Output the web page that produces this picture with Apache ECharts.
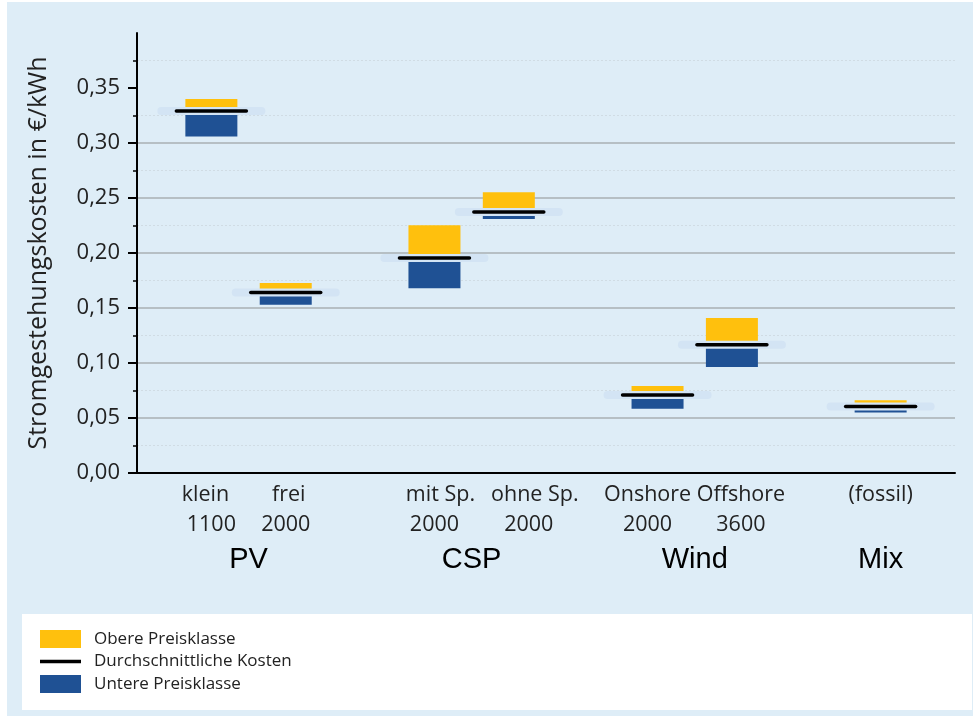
<!DOCTYPE html>
<html><head><meta charset="utf-8">
<script src="https://cdn.jsdelivr.net/npm/echarts@6/dist/echarts.min.js"></script>
<style>html,body{margin:0;padding:0;background:#fff}#c{width:973px;height:716px}</style>
</head><body><div id="c"></div>
<script>
// ---- data ----
const categories = ['klein', 'frei', 'mit Sp.', 'ohne Sp.', 'Onshore', 'Offshore', '(fossil)'];
const subLabels  = ['1100', '2000', '2000', '2000', '2000', '3600', ''];
const groupOf    = ['PV', 'PV', 'CSP', 'CSP', 'Wind', 'Wind', 'Mix'];
const groups     = ['PV', 'CSP', 'Wind', 'Mix'];
const lowCost    = [0.306, 0.153, 0.168, 0.231, 0.0585, 0.0964, 0.055];
const avgCost    = [0.329, 0.164, 0.1955, 0.2373, 0.071, 0.1167, 0.0604];
const highCost   = [0.340, 0.1727, 0.2252, 0.2552, 0.0791, 0.1409, 0.0661];
const yTicks     = [0, 0.05, 0.10, 0.15, 0.20, 0.25, 0.30, 0.35];
const seriesNames = ['Obere Preisklasse', 'Durchschnittliche Kosten', 'Untere Preisklasse'];

// ---- styling ----
const FONT = "'Open Sans', sans-serif";
const C_UP = '#FFC00D', C_LOW = '#1F5194', C_AVG = '#000000', C_HALO = '#D3E4F4';
const labelNudge = [[-6, 0], [3, 0], [6, 0], [26, 20], [-10, -10], [9, 9], [0, 0]];

// build axis slots (gap slots between groups)
const slotCats = ['gap0'];
const slotIndex = [];
const slotToCat = [-1];
categories.forEach((c, i) => {
  if (i > 0 && groupOf[i] !== groupOf[i - 1]) { slotCats.push('gap' + slotCats.length); slotToCat.push(-1); }
  slotIndex.push(slotCats.length);
  slotCats.push(c);
  slotToCat.push(i);
});
slotCats.push('gap' + slotCats.length); slotToCat.push(-1);

const groupCenter = groups.map(g => {
  const idx = categories.map((c, i) => i).filter(i => groupOf[i] === g).map(i => slotIndex[i]);
  return idx.reduce((a, b) => a + b, 0) / idx.length;
});

const rich = {};
labelNudge.forEach((n, i) => {
  const pad = s => s >= 0 ? [0, 0, 0, 2 * s] : [0, -2 * s, 0, 0];
  rich['a' + i] = { fontFamily: FONT, fontSize: 21.5, color: '#222', lineHeight: 30, padding: pad(n[0]) };
  rich['b' + i] = { fontFamily: FONT, fontSize: 21.5, color: '#222', lineHeight: 30, padding: pad(n[1]) };
});

const itemData = categories.map((c, i) => [slotIndex[i], lowCost[i], avgCost[i], highCost[i]]);
const BAR_W = 52, AVG_W = 74, HALO_W = 108;

const chart = echarts.init(document.getElementById('c'), null, { renderer: 'canvas' });
chart.setOption({
  backgroundColor: '#fff',
  animation: false,
  textStyle: { fontFamily: FONT },
  graphic: [
    { type: 'rect', z: -10, shape: { x: 7, y: 2, width: 966, height: 714 }, style: { fill: '#DEEDF7' } },
    { type: 'rect', z: -9, shape: { x: 22, y: 614, width: 950, height: 96 }, style: { fill: '#FFFFFF' } }
  ],
  grid: { left: 137, right: 18, top: 33, bottom: 243, containLabel: false },
  legend: {
    orient: 'vertical', left: 40, top: 630, padding: 0,
    itemWidth: 41, itemHeight: 18, itemGap: 4.5,
    textStyle: { fontFamily: FONT, fontSize: 17, color: '#222', padding: [0, 0, 0, 8] },
    data: [
      { name: seriesNames[0], icon: 'rect' },
      { name: seriesNames[1], icon: 'path://M0,0 M0,7.3 L41,7.3 L41,10.7 L0,10.7 Z M41,18' },
      { name: seriesNames[2], icon: 'rect' }
    ]
  },
  xAxis: [
    {
      type: 'category', data: slotCats, boundaryGap: false,
      axisLine: { show: true, lineStyle: { color: '#000', width: 2 } },
      axisTick: { show: false },
      splitLine: { show: false },
      axisLabel: {
        interval: 0, margin: 7, lineHeight: 30, fontSize: 21.5, color: '#222',
        formatter: (v, idx) => {
          const ci = slotToCat[idx];
          if (ci === undefined || ci < 0) return '';
          let s = '{a' + ci + '|' + categories[ci] + '}';
          if (subLabels[ci]) s += '\n{b' + ci + '|' + subLabels[ci] + '}';
          return s;
        },
        rich: rich
      }
    },
    {
      type: 'value', position: 'bottom', min: 0, max: slotCats.length - 1, interval: 0.5,
      axisLine: { show: false }, axisTick: { show: false }, splitLine: { show: false },
      axisLabel: {
        margin: 72, fontFamily: "'Liberation Sans', Arial, sans-serif", fontSize: 29, color: '#000',
        showMinLabel: true, showMaxLabel: true,
        formatter: v => {
          const k = groupCenter.findIndex(c => Math.abs(c - v) < 1e-6);
          return k >= 0 ? groups[k] : '';
        }
      }
    }
  ],
  yAxis: {
    type: 'value', min: 0, max: 0.40, interval: 0.05,
    name: 'Stromgestehungskosten in €/kWh', nameLocation: 'middle', nameGap: 86,
    nameTextStyle: { fontFamily: FONT, fontSize: 25, color: '#222' },
    axisLine: { show: true, lineStyle: { color: '#000', width: 2 } },
    axisTick: { show: true, length: 9, customValues: yTicks, lineStyle: { color: '#000', width: 2 } },
    minorTick: { show: true, splitNumber: 2, length: 4, lineStyle: { color: '#000', width: 1.5 } },
    axisLabel: {
      customValues: yTicks, margin: 17, fontFamily: FONT, fontSize: 22, color: '#222',
      formatter: v => v.toFixed(2).replace('.', ',')
    },
    splitLine: { show: true, showMaxLine: false, lineStyle: { color: '#A9AFB3', width: 1.5 } },
    minorSplitLine: { show: true, lineStyle: { color: '#D0DCE4', width: 1, type: [2, 2] } }
  },
  series: [
    {
      name: seriesNames[2], type: 'custom', z: 2, itemStyle: { color: C_LOW },
      encode: { x: 0, y: [1, 2] }, data: itemData,
      renderItem: (params, api) => {
        const p0 = api.coord([api.value(0), api.value(1)]);
        const p1 = api.coord([api.value(0), api.value(2)]);
        return { type: 'rect', shape: { x: p0[0] - BAR_W / 2, y: p1[1], width: BAR_W, height: p0[1] - p1[1] }, style: { fill: C_LOW } };
      }
    },
    {
      name: seriesNames[0], type: 'custom', z: 2, itemStyle: { color: C_UP },
      encode: { x: 0, y: [2, 3] }, data: itemData,
      renderItem: (params, api) => {
        const p0 = api.coord([api.value(0), api.value(2)]);
        const p1 = api.coord([api.value(0), api.value(3)]);
        return { type: 'rect', shape: { x: p0[0] - BAR_W / 2, y: p1[1], width: BAR_W, height: p0[1] - p1[1] }, style: { fill: C_UP } };
      }
    },
    {
      name: seriesNames[1], type: 'custom', z: 3, itemStyle: { color: C_AVG },
      encode: { x: 0, y: 2 }, data: itemData,
      renderItem: (params, api) => {
        const p = api.coord([api.value(0), api.value(2)]);
        return {
          type: 'group', children: [
            { type: 'line', shape: { x1: p[0] - HALO_W / 2 + 4, y1: p[1], x2: p[0] + HALO_W / 2 - 4, y2: p[1] }, style: { stroke: C_HALO, lineWidth: 8, lineCap: 'round' } },
            { type: 'line', shape: { x1: p[0] - AVG_W / 2 + 2, y1: p[1], x2: p[0] + AVG_W / 2 - 2, y2: p[1] }, style: { stroke: C_AVG, lineWidth: 3.5, lineCap: 'round' } }
          ]
        };
      }
    }
  ]
});
</script></body></html>
